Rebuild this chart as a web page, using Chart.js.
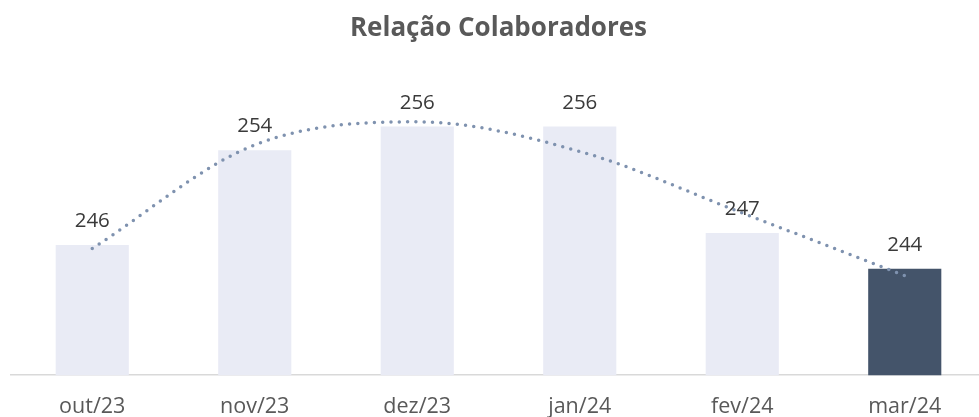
<!DOCTYPE html>
<html>
<head>
<meta charset="utf-8">
<script src="https://cdn.jsdelivr.net/npm/chart.js"></script>
<style>
  html, body { margin: 0; padding: 0; background: #fff; overflow: hidden; }
  #wrap { width: 996px; height: 417px; overflow: hidden; }
</style>
</head>
<body>
<div id="wrap"><canvas id="chart" width="996" height="440"></canvas></div>
<script>
const months = ['out/23', 'nov/23', 'dez/23', 'jan/24', 'fev/24', 'mar/24'];
const headcount = [246, 254, 256, 256, 247, 244];
// trend line (dotted polynomial trend)
const trend = [245.7, 254.45, 256.4, 253.9, 248.7, 243.4];
const barColors = ['#E9EBF5', '#E9EBF5', '#E9EBF5', '#E9EBF5', '#E9EBF5', '#44546A'];

const valueLabels = {
  id: 'valueLabels',
  afterDatasetsDraw(chart) {
    const ctx = chart.ctx;
    const meta = chart.getDatasetMeta(1);
    ctx.save();
    ctx.font = '20.5px "Open Sans"';
    ctx.fillStyle = '#3A3A3A';
    ctx.textAlign = 'center';
    ctx.textBaseline = 'alphabetic';
    meta.data.forEach((bar, i) => {
      ctx.fillText(String(headcount[i]), bar.x, bar.y - 18);
    });
    ctx.restore();
  }
};

new Chart(document.getElementById('chart'), {
  data: {
    labels: months,
    datasets: [
      {
        type: 'line',
        data: trend,
        order: 0,
        borderColor: '#7F92AF',
        borderWidth: 3.5,
        borderDash: [0, 8.3],
        borderCapStyle: 'round',
        cubicInterpolationMode: 'monotone',
        pointRadius: 0,
        fill: false
      },
      {
        type: 'bar',
        data: headcount,
        order: 1,
        backgroundColor: barColors,
        barPercentage: 0.45,
        categoryPercentage: 1
      }
    ]
  },
  options: {
    responsive: false,
    animation: false,
    layout: { padding: { left: 11, right: 10, top: 0, bottom: 1 } },
    plugins: {
      legend: { display: false },
      tooltip: { enabled: false },
      title: {
        display: true,
        text: 'Relação Colaboradores',
        color: '#595959',
        font: { family: '"Open Sans"', size: 26, weight: 'bold' },
        padding: { top: 13, bottom: 35 }
      }
    },
    scales: {
      x: {
        grid: { display: false, drawTicks: false },
        border: { display: true, color: '#D9D9D9', width: 1.5 },
        ticks: { color: '#595959', padding: 19, font: { family: '"Open Sans"', size: 21.5 } }
      },
      y: {
        display: false,
        min: 235,
        max: 260
      }
    }
  },
  plugins: [valueLabels]
});
</script>
</body>
</html>
